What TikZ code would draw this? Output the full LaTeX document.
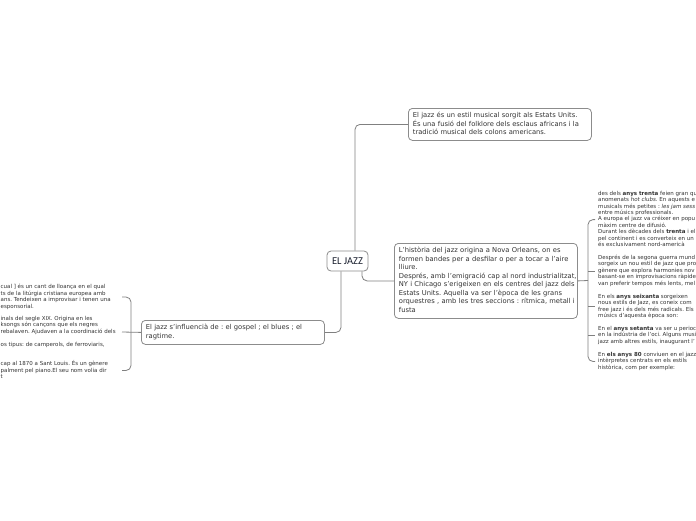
\documentclass[tikz,border=0pt]{standalone}
\usepackage{fontspec}
\setmainfont{DejaVu Sans}
\newfontfamily\titlefont{Carlito}
\definecolor{txt}{HTML}{333333}
\definecolor{edge}{HTML}{8C8C8C}
\definecolor{conn}{HTML}{808080}
\definecolor{jazztxt}{HTML}{1C2130}
\frenchspacing
\begin{document}
\begin{tikzpicture}[x=1pt,y=-1pt,
  box/.style={draw=edge, line width=0.8pt, rounded corners=4pt, anchor=north west,
    minimum width=183pt, text width=174pt, inner xsep=4.5pt, inner ysep=0pt,
    align=left, font=\fontsize{6.75}{8.5}\selectfont, text=txt},
  rside/.style={anchor=west, inner sep=0pt, font=\fontsize{5.5}{6.4}\selectfont, text=txt},
  lside/.style={anchor=west, inner sep=0pt, font=\fontsize{5.5}{6.5}\selectfont, text=txt},
  link/.style={draw=conn, line width=0.8pt, rounded corners=5pt}]
\useasboundingbox (0,0) rectangle (696,520);
\fill[white] (0,0) rectangle (696,520);
\clip (0,0) rectangle (696,520);

% central node
\node[draw=edge, line width=0.8pt, rounded corners=4pt, minimum width=41pt, minimum height=20pt,
  inner sep=0pt, font=\titlefont\fontsize{10.5}{12}\selectfont, text=jazztxt] (jazz) at (347.5,261) {EL JAZZ};

% main boxes
\node[box, minimum height=32pt] (top) at (408,108) {\begin{tabular}{@{}l@{}}
El jazz és un estil musical sorgit als Estats Units.\\
És una fusió del folklore dels esclaus africans i la\\
tradició musical dels colons americans.\end{tabular}};

\node[box, minimum height=75pt] (mid) at (394,243) {\begin{tabular}{@{}l@{}}
L'història del jazz origina a Nova Orleans, on es\\
formen bandes per a desfilar o per a tocar a l'aire\\
lliure.\\
Després, amb l'emigració cap al nord industrialitzat,\\
NY i Chicago s'erigeixen en els centres del jazz dels\\
Estats Units. Aquella va ser l'època de les grans\\
orquestres , amb les tres seccions : rítmica, metall i\\
fusta\end{tabular}};

\node[box, minimum height=24pt] (left) at (141,320) {\begin{tabular}{@{}l@{}}
El jazz s'influencià de : el gospel ; el blues ; el\\
ragtime.\end{tabular}};

% connectors from the centre
\draw[link] ([xshift=7.5pt]jazz.north) |- (top.west);
\draw[link] ([xshift=14.5pt]jazz.south) |- (mid.west);
\draw[link] ([xshift=-6.5pt]jazz.south) |- (left.east);

% left side texts
\node[lside] (la) at (0.5,297) {\begin{tabular}{@{}l@{}}
cual ] és un cant de lloança en el qual\\
ts de la litúrgia cristiana europea amb\\
ans. Tendeixen a improvisar i tenen una\\
esponsorial.\end{tabular}};
\node[lside] (lb) at (0.5,332) {\begin{tabular}{@{}l@{}}
inals del segle XIX. Origina en les\\
ksongs són cançons que els negres\\
rebalaven. Ajudaven a la coordinació dels\\
\\
os tipus: de camperols, de ferroviaris,\end{tabular}};
\node[lside] (lc) at (0.5,370.5) {\begin{tabular}{@{}l@{}}
cap al 1870 a Sant Louis. És un gènere\\
palment pel piano.El seu nom volia dir\\
t\end{tabular}};

\coordinate (lk1) at (122,297);
\coordinate (lk2) at (122,332);
\coordinate (lk3) at (122,370.5);
\draw[link] (left.west) -- (lk2);
\draw[link] (lk1) -- (131,297) -- (131,370.5) -- (lk3);

% right side texts
\node[rside] (ra) at (598,219.6) {\begin{tabular}{@{}l@{}}
des dels \textbf{anys trenta} feien gran qu\\
anomenats \textit{hot clubs}. En aquests e\\
musicals més petites : \textit{les jam sess}\\
entre músics professionals.\\
A europa el jazz va créixer en popu\\
màxim centre de difusió.\\
Durant les dècades dels \textbf{trenta} i el\\
pel continent i es converteix en un\\
és exclusivament nord-americà\end{tabular}};
\node[rside] (rb) at (598,271) {\begin{tabular}{@{}l@{}}
Després de la segona guerra mund\\
sorgeix un nou estil de jazz que pro\\
gènere que explora harmonies nov\\
basant-se en improvisacions ràpide\\
van preferir tempos més lents, mel\end{tabular}};
\node[rside] (rc) at (598,306.6) {\begin{tabular}{@{}l@{}}
En els \textbf{anys seixanta} sorgeixen\\
nous estils de Jazz, es coneix com\\
free jazz i és dels més radicals. Els\\
músics d'aquesta època son:\end{tabular}};
\node[rside] (rd) at (598,335.5) {\begin{tabular}{@{}l@{}}
En el \textbf{anys setanta} va ser u perioc\\
en la indústria de l'oci. Alguns musi\\
jazz amb altres estils, inaugurant l'\end{tabular}};
\node[rside] (re) at (598,361.5) {\begin{tabular}{@{}l@{}}
En \textbf{els anys 80} conviuen en el jazz\\
intèrpretes centrats en els estils\\
històrica, com per exemple:\end{tabular}};

\draw[link] (mid.east) -- (588,280.5);
\draw[link] ([xshift=-3pt]ra.west) -- (588,219.6) -- (588,361.5) -- ([xshift=-3pt]re.west);
\draw[link] (588,271) -- ([xshift=-3pt]rb.west);
\draw[link] (588,306.6) -- ([xshift=-3pt]rc.west);
\draw[link] (588,335.5) -- ([xshift=-3pt]rd.west);
\end{tikzpicture}
\end{document}
